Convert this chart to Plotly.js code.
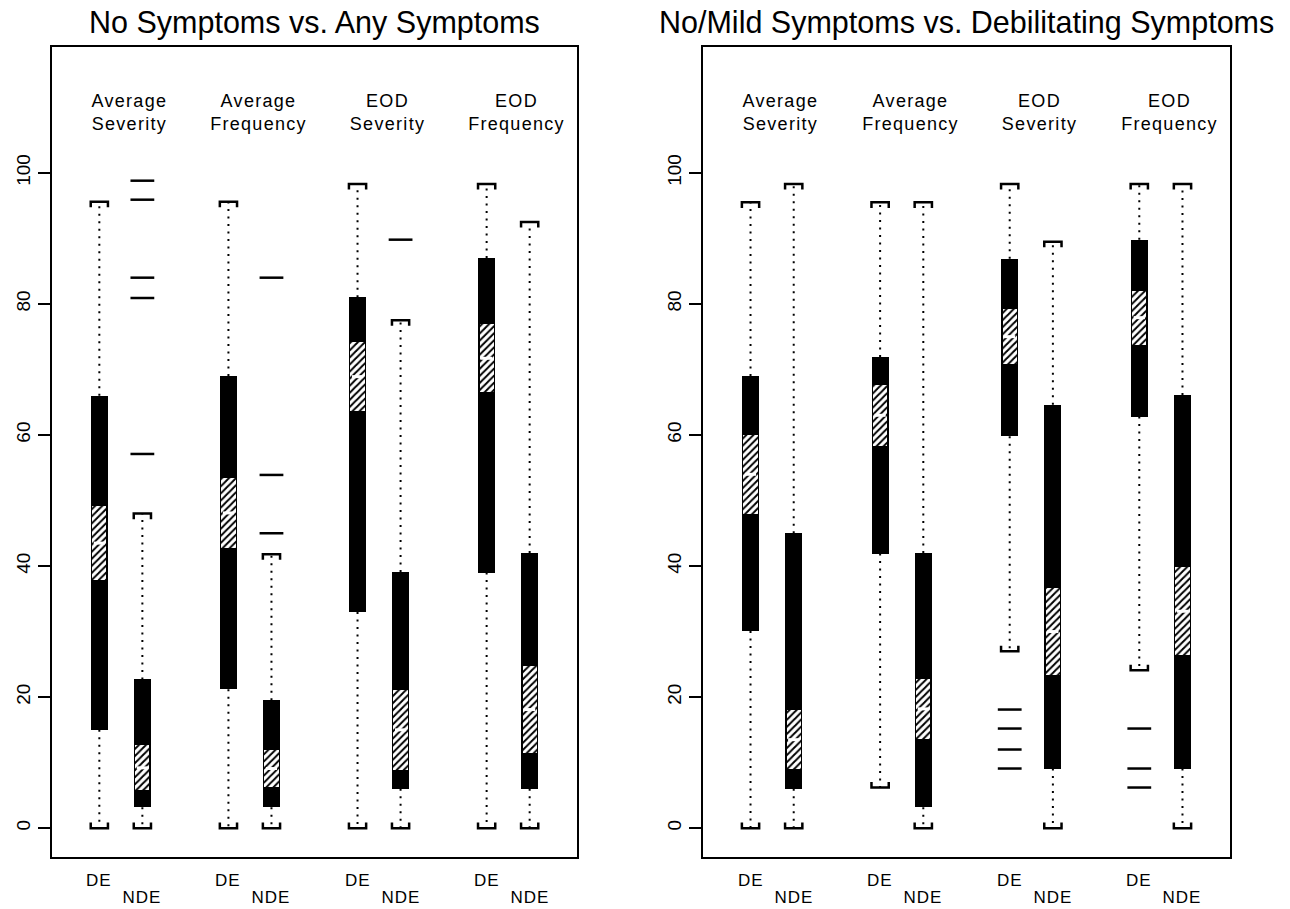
<!DOCTYPE html>
<html>
<head>
<meta charset="utf-8">
<script src="https://cdn.plot.ly/plotly-3.0.1.min.js"></script>
<style>
  html, body { margin: 0; padding: 0; background: #fff; }
  #chart { width: 1290px; height: 909px; }
</style>
</head>
<body>
<div id="chart"></div>
<script>
// ---------- data ----------
const boxPositions = [1, 2, 4, 5, 7, 8, 10, 11];
const boxTickLabels = ["DE", "NDE", "DE", "NDE", "DE", "NDE", "DE", "NDE"];
const groupLabels = ["Average<br>Severity", "Average<br>Frequency", "EOD<br>Severity", "EOD<br>Frequency"];
const groupCenters = [1.5, 4.5, 7.5, 10.5];
const panelTitles = ["No Symptoms vs. Any Symptoms", "No/Mild Symptoms vs. Debilitating Symptoms"];

// Left panel: No Symptoms vs. Any Symptoms
const leftLower    = [0, 0, 0, 0, 0, 0, 0, 0];
const leftQ1       = [15, 3.2, 21.2, 3.2, 33, 6, 39, 6];
const leftNotchLo  = [37.9, 5.8, 42.8, 6.3, 63.6, 8.9, 66.5, 11.5];
const leftMedian   = [43.5, 9.2, 48.1, 9.1, 68.9, 15, 71.7, 18.1];
const leftNotchHi  = [49.2, 12.7, 53.5, 12.0, 74.2, 21.1, 77, 24.8];
const leftQ3       = [66, 22.7, 69, 19.5, 81, 39.1, 87, 42];
const leftUpper    = [95.6, 48, 95.6, 41.8, 98.3, 77.5, 98.3, 92.5];
const leftOutlierBox = [1, 1, 1, 1, 1, 3, 3, 3, 5];
const leftOutlierVal = [98.8, 95.9, 84.0, 80.9, 57.1, 84.0, 53.9, 45.0, 89.8];

// Right panel: No/Mild Symptoms vs. Debilitating Symptoms
const rightLower    = [0, 0, 6.2, 0, 27, 0, 24.1, 0];
const rightQ1       = [30.1, 6, 41.9, 3.2, 59.8, 9.1, 62.8, 9.1];
const rightNotchLo  = [48, 9, 58.3, 13.6, 70.8, 23.4, 73.7, 26.4];
const rightMedian   = [54, 13.5, 63, 18.2, 75, 30, 77.9, 33.1];
const rightNotchHi  = [60, 18.1, 67.6, 22.8, 79.2, 36.6, 82, 39.8];
const rightQ3       = [69, 45, 71.9, 42, 86.9, 64.6, 89.8, 66.1];
const rightUpper    = [95.5, 98.3, 95.5, 95.5, 98.3, 89.5, 98.3, 98.3];
const rightOutlierBox = [4, 4, 4, 4, 6, 6, 6];
const rightOutlierVal = [18.1, 15.2, 12.0, 9.1, 15.2, 9.1, 6.2];

// ---------- styling constants ----------
const BOX_W = 0.39, NOTCH_W = 0.33, CAP_HALF = 0.2, CAP_H = 0.85;
const FONT = "Liberation Sans, Arial, sans-serif";

function panelTraces(xa, ya, lower, q1, nlo, med, nhi, q3, upper, oBox, oVal) {
  const traces = [];
  traces.push({
    type: "bar", x: boxPositions, base: q1, y: q3.map((v, i) => v - q1[i]),
    width: BOX_W, marker: { color: "#000", line: { width: 0 } },
    xaxis: xa, yaxis: ya, hoverinfo: "skip", showlegend: false
  });
  traces.push({
    type: "bar", x: boxPositions, base: nlo, y: nhi.map((v, i) => v - nlo[i]),
    width: NOTCH_W,
    marker: { color: "#fff", line: { width: 0 },
      pattern: { shape: "/", fgcolor: "#000", bgcolor: "#fff", size: 5, solidity: 0.4 } },
    xaxis: xa, yaxis: ya, hoverinfo: "skip", showlegend: false
  });
  traces.push({
    type: "scatter", mode: "markers", x: boxPositions, y: med,
    marker: { symbol: "line-ew", size: 8, line: { color: "#fff", width: 3 } },
    xaxis: xa, yaxis: ya, hoverinfo: "skip", showlegend: false
  });
  // whiskers (dotted)
  const wx = [], wy = [];
  boxPositions.forEach((p, i) => {
    wx.push(p, p, null, p, p, null);
    wy.push(q3[i], upper[i], null, q1[i], lower[i], null);
  });
  traces.push({
    type: "scatter", mode: "lines", x: wx, y: wy,
    line: { color: "#000", width: 2, dash: "2px,5.5px" },
    xaxis: xa, yaxis: ya, hoverinfo: "skip", showlegend: false
  });
  // caps
  const cx = [], cy = [];
  boxPositions.forEach((p, i) => {
    cx.push(p - CAP_HALF, p - CAP_HALF, p + CAP_HALF, p + CAP_HALF, null);
    cy.push(upper[i] - CAP_H, upper[i], upper[i], upper[i] - CAP_H, null);
    cx.push(p - CAP_HALF, p - CAP_HALF, p + CAP_HALF, p + CAP_HALF, null);
    cy.push(lower[i] + CAP_H, lower[i], lower[i], lower[i] + CAP_H, null);
  });
  traces.push({
    type: "scatter", mode: "lines", x: cx, y: cy,
    line: { color: "#000", width: 2.5 },
    xaxis: xa, yaxis: ya, hoverinfo: "skip", showlegend: false
  });
  // outliers
  traces.push({
    type: "scatter", mode: "markers", x: oBox.map(b => boxPositions[b]), y: oVal,
    marker: { symbol: "line-ew", size: 17, line: { color: "#000", width: 2.5 } },
    xaxis: xa, yaxis: ya, hoverinfo: "skip", showlegend: false
  });
  return traces;
}

const data = [].concat(
  panelTraces("x", "y", leftLower, leftQ1, leftNotchLo, leftMedian, leftNotchHi, leftQ3, leftUpper, leftOutlierBox, leftOutlierVal),
  panelTraces("x2", "y2", rightLower, rightQ1, rightNotchLo, rightMedian, rightNotchHi, rightQ3, rightUpper, rightOutlierBox, rightOutlierVal)
);

function xAxis(domain) {
  return { domain: domain, range: [-0.1, 12.1], showticklabels: false, ticks: "",
    showgrid: false, zeroline: false, showline: true, mirror: true,
    linecolor: "#000", linewidth: 2, fixedrange: true };
}
function yAxis(domain, anchor) {
  return { domain: domain, anchor: anchor, range: [-4.4, 119.2],
    tickvals: [0, 20, 40, 60, 80, 100], ticktext: ["0", "20", "40", "60", "80", "100"],
    ticks: "outside", ticklen: 12, tickwidth: 2, tickcolor: "#000", tickangle: -90,
    tickfont: { family: FONT, size: 19, color: "#000" },
    showgrid: false, zeroline: false, showline: true, mirror: true,
    linecolor: "#000", linewidth: 2, fixedrange: true };
}

const yDom = [1 - 857 / 909, 1 - 47 / 909];
const annotations = [];
[["x", "y", 314.5], ["x2", "y2", 966]].forEach(([xr, yr, cx], k) => {
  annotations.push({ xref: "paper", yref: "paper", x: cx / 1290, y: 1 - 22 / 909,
    xanchor: "center", yanchor: "middle", showarrow: false, text: panelTitles[k],
    font: { family: FONT, size: 30.5, color: "#000" } });
  groupLabels.forEach((g, i) => {
    annotations.push({ xref: xr, yref: yr, x: groupCenters[i] + 0.2, y: 109.2,
      xanchor: "center", yanchor: "middle", showarrow: false, text: g,
      font: { family: FONT, size: 18, color: "#000" } });
  });
  boxTickLabels.forEach((t, i) => {
    annotations.push({ xref: xr, yref: "paper", x: boxPositions[i],
      y: t === "DE" ? 1 - 880 / 909 : 1 - 897 / 909,
      xanchor: "center", yanchor: "middle", showarrow: false, text: t,
      font: { family: FONT, size: 17, color: "#000" } });
  });
});

const layout = {
  width: 1290, height: 909,
  margin: { l: 0, r: 0, t: 0, b: 0 },
  paper_bgcolor: "#fff", plot_bgcolor: "#fff",
  barmode: "overlay", bargap: 0, showlegend: false,
  xaxis: Object.assign(xAxis([52 / 1290, 577 / 1290]), { anchor: "y" }),
  yaxis: yAxis(yDom, "x"),
  xaxis2: Object.assign(xAxis([703 / 1290, 1230 / 1290]), { anchor: "y2" }),
  yaxis2: yAxis(yDom, "x2"),
  annotations: annotations
};

Plotly.newPlot("chart", data, layout, { staticPlot: true }).then(() => {
  document.querySelectorAll(".annotation-text").forEach(t => {
    const fs = parseFloat(t.style.fontSize);
    if (fs === 18) t.style.letterSpacing = "1.3px";
    if (fs === 17) t.style.letterSpacing = "1px";
  });
});
</script>
</body>
</html>
